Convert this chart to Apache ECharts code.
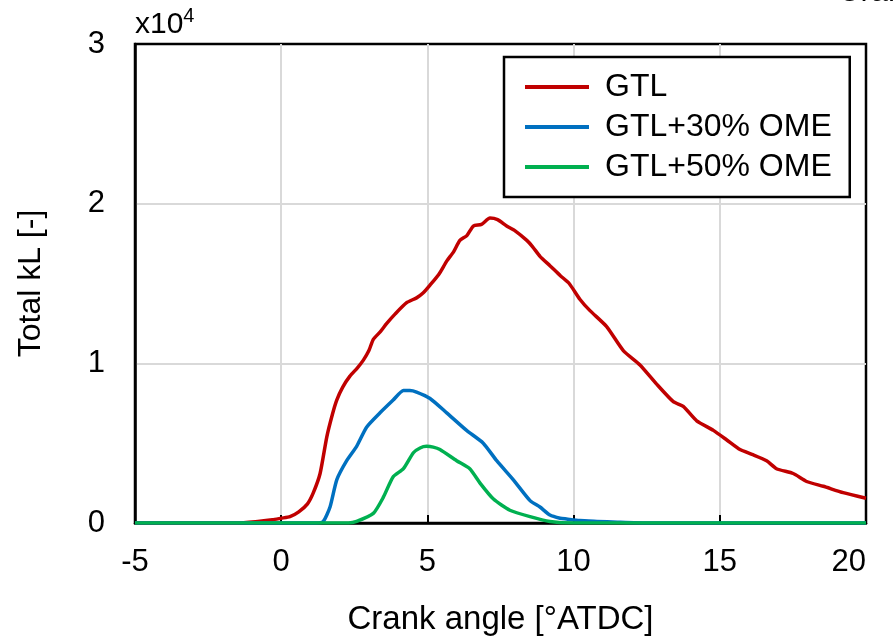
<!DOCTYPE html>
<html>
<head>
<meta charset="utf-8">
<script src="https://cdn.jsdelivr.net/npm/echarts@6/dist/echarts.min.js"></script>
<style>
	html, body {margin: 0; padding: 0; background: #fff;}
	#chart {width: 895px; height: 641px;}
</style>
</head>
<body>
<div id="chart"></div>
<script>
	// values in units of x10^4
	var seriesNames = ['GTL', 'GTL+30% OME', 'GTL+50% OME'];
	var xTicks = [-5, 0, 5, 10, 15, 20];
	var yTicks = [0, 1, 2, 3];

	var gtlAngle = [-5, -1.5, -0.8, -0.3, 0, 0.3, 0.6, 0.9, 1.1, 1.33, 1.56, 1.75, 1.9, 2.1, 2.35, 2.6, 2.81, 3.0, 3.15, 3.4,
		3.61, 3.9, 4.29, 4.63, 4.85, 5.09, 5.4, 5.66, 5.9, 6.11, 6.35, 6.57, 6.85, 7.14, 7.4, 7.71, 8.0, 8.4, 8.6, 8.85,
		9.2, 9.54, 9.85, 10.22, 10.56, 11.13, 11.7, 12.27, 12.84, 13.41, 13.75, 14.21, 14.78, 15.24, 15.69, 16.1, 16.6,
		16.94, 17.51, 17.97, 18.54, 19.22, 20];
	var gtlKL = [0, 0, 0.01, 0.02, 0.03, 0.04, 0.07, 0.12, 0.19, 0.31, 0.54, 0.68, 0.77, 0.85, 0.92, 0.97, 1.02, 1.08, 1.15, 1.2,
		1.25, 1.31, 1.38, 1.41, 1.44, 1.49, 1.56, 1.64, 1.70, 1.77, 1.80, 1.86, 1.87, 1.91, 1.90, 1.86, 1.83, 1.77, 1.73, 1.67,
		1.61, 1.55, 1.50, 1.40, 1.33, 1.23, 1.08, 0.99, 0.87, 0.76, 0.73, 0.64, 0.58, 0.52, 0.46, 0.43, 0.39,
		0.34, 0.31, 0.26, 0.23, 0.19, 0.155];

	var ome30Angle = [-5, 1.2, 1.44, 1.67, 1.9, 2.24, 2.58, 2.92, 3.38, 3.83, 4.18, 4.4, 4.63, 5.09, 5.66, 6.34, 6.91, 7.37,
		7.94, 8.51, 8.85, 9.19, 9.54, 9.76, 10.2, 10.8, 11.5, 12.5, 20];
	var ome30KL = [0, 0, 0.01, 0.10, 0.27, 0.39, 0.48, 0.60, 0.69, 0.77, 0.83, 0.83, 0.82, 0.78, 0.69, 0.58, 0.50, 0.39,
		0.27, 0.14, 0.10, 0.05, 0.03, 0.025, 0.015, 0.01, 0.005, 0, 0];

	var ome50Angle = [-5, 2.3, 2.58, 3.15, 3.49, 3.83, 4.18, 4.52, 4.75, 4.97, 5.2, 5.43, 6.0, 6.45, 6.8, 7.26, 7.82, 8.51,
		9.19, 10, 20];
	var ome50KL = [0, 0, 0.01, 0.06, 0.16, 0.29, 0.34, 0.44, 0.47, 0.48, 0.475, 0.46, 0.39, 0.34, 0.25, 0.15, 0.08, 0.04,
		0.01, 0, 0];

	var colors = ['#C00000', '#0070C0', '#00B050'];
	var font = 'Liberation Sans, Arial, sans-serif';

	function pairs(xs, ys){
		var out = [];
		for (var i=0; i<xs.length; i++){
			out.push([xs[i], ys[i]]);
		}
		return out;
	}

	var chart = echarts.init(document.getElementById('chart'), null, {renderer: 'canvas'});

	var allData = [pairs(gtlAngle, gtlKL), pairs(ome30Angle, ome30KL), pairs(ome50Angle, ome50KL)];
	var series = [];
	for (var s=0; s<seriesNames.length; s++){
		series.push({
			name: seriesNames[s],
			type: 'line',
			data: allData[s],
			showSymbol: false,
			smooth: 0.2,
			lineStyle: {color: colors[s], width: 3.5},
			itemStyle: {color: colors[s]},
			z: 3 + s
		});
	}

	var option = {
		animation: false,
		backgroundColor: '#fff',
		textStyle: {fontFamily: font},
		grid: {
			left: 135, right: 29, top: 44, bottom: 118,
			show: true, borderColor: '#000', borderWidth: 2.5, backgroundColor: 'transparent'
		},
		xAxis: {
			type: 'value',
			min: xTicks[0], max: xTicks[xTicks.length-1], interval: 5,
			name: 'Crank angle [°ATDC]',
			nameLocation: 'middle',
			nameGap: 80,
			nameTextStyle: {fontSize: 33, color: '#000', fontFamily: font},
			axisLine: {show: true, onZero: false, lineStyle: {color: '#000', width: 2.5}},
			axisTick: {show: true, inside: true, length: 8, lineStyle: {color: '#000', width: 2}},
			axisLabel: {fontSize: 31, color: '#000', margin: 24, fontFamily: font, alignMaxLabel: 'right'},
			splitLine: {show: true, showMinLine: false, showMaxLine: false, lineStyle: {color: '#d9d9d9', width: 2}}
		},
		yAxis: {
			type: 'value',
			min: yTicks[0], max: yTicks[yTicks.length-1], interval: 1,
			name: 'Total kL [-]',
			nameLocation: 'middle',
			nameGap: 88,
			nameTextStyle: {fontSize: 32, color: '#000', fontFamily: font},
			axisLine: {show: true, onZero: false, lineStyle: {color: '#000', width: 2.5}},
			axisTick: {show: false},
			axisLabel: {fontSize: 31, color: '#000', margin: 30, fontFamily: font},
			splitLine: {show: true, showMinLine: false, showMaxLine: false, lineStyle: {color: '#d9d9d9', width: 2}}
		},
		legend: {
			data: seriesNames,
			orient: 'vertical',
			left: 504, top: 57,
			padding: [14, 18, 14, 21],
			itemGap: 8,
			itemWidth: 64,
			itemHeight: 4,
			icon: 'rect',
			borderColor: '#000',
			borderWidth: 2.5,
			backgroundColor: '#fff',
			textStyle: {fontSize: 32, color: '#000', lineHeight: 32, padding: [0, 0, 0, 11], fontFamily: font}
		},
		graphic: [
			{
				type: 'text', left: 135, top: 6,
				style: {
					text: '{b|x10}{s|4}',
					fill: '#000',
					rich: {
						b: {fontSize: 30, fontFamily: font, verticalAlign: 'bottom', lineHeight: 34},
						s: {fontSize: 20, fontFamily: font, verticalAlign: 'top', lineHeight: 34, padding: [0, 0, 14, 0]}
					}
				}
			},
			{
				type: 'text', left: 838, top: -23,
				style: {text: 'Crank angle', fontSize: 31, fontFamily: font, fill: '#000'}
			}
		],
		series: series
	};
	chart.setOption(option);
</script>
</body>
</html>
